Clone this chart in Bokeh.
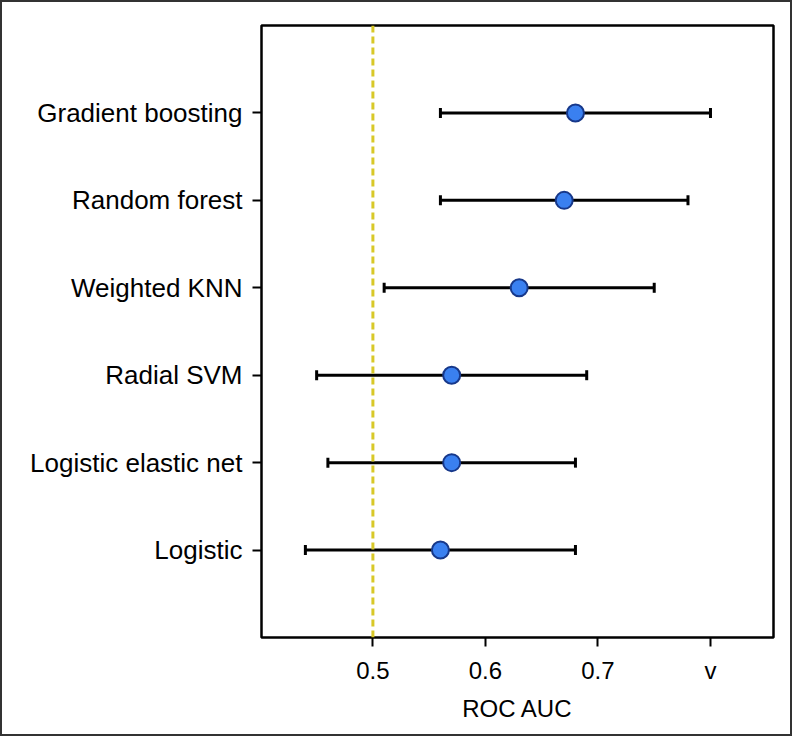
from bokeh.plotting import figure
from bokeh.models import FactorRange, Whisker, TeeHead, ColumnDataSource, Span, FixedTicker
from bokeh.embed import file_html
from bokeh.resources import INLINE

# data (bottom to top)
models = ["Logistic", "Logistic elastic net", "Radial SVM", "Weighted KNN", "Random forest", "Gradient boosting"]
auc = [0.56, 0.57, 0.57, 0.63, 0.67, 0.68]
ci_low = [0.44, 0.46, 0.45, 0.51, 0.56, 0.56]
ci_high = [0.68, 0.68, 0.69, 0.75, 0.78, 0.80]
x_ticks = [0.5, 0.6, 0.7, 0.8]
x_tick_labels = ["0.5", "0.6", "0.7", "v"]
reference_auc = 0.5

src = ColumnDataSource(dict(model=models, auc=auc, lo=ci_low, hi=ci_high))

FONT = "Liberation Sans"

p = figure(width=792, height=736, output_backend="svg", toolbar_location=None,
           x_range=(0.401, 0.856),
           y_range=FactorRange(factors=models, range_padding=0.5, range_padding_units="absolute"),
           min_border_left=259, min_border_right=21, min_border_top=23, min_border_bottom=101)

p.grid.visible = False
p.background_fill_color = "white"
p.border_fill_color = "white"
p.outline_line_color = "black"
p.outline_line_width = 2.5

p.styles = {"border": "2px solid #333333"}

# reference line
p.add_layout(Span(location=reference_auc, dimension="height", line_color="#D8C828",
                  line_width=3, line_dash="7 4"))

w = Whisker(source=src, base="model", lower="lo", upper="hi", dimension="width",
            line_color="black", line_width=3,
            upper_head=TeeHead(size=10, line_width=3, line_color="black"),
            lower_head=TeeHead(size=10, line_width=3, line_color="black"))
p.add_layout(w)

p.scatter("auc", "model", source=src, size=17, fill_color="#3A80F0",
          line_color="#17388A", line_width=2)

xa = p.xaxis[0]
xa.ticker = FixedTicker(ticks=x_ticks)
xa.major_label_overrides = {t: l for t, l in zip(x_ticks, x_tick_labels)}
xa.axis_label = "ROC AUC"
xa.axis_label_text_font = FONT
xa.axis_label_text_font_style = "normal"
xa.axis_label_text_font_size = "24px"
xa.axis_label_text_color = "black"
xa.axis_label_standoff = 8
xa.major_label_text_font = FONT
xa.major_label_text_font_size = "24px"
xa.major_label_text_color = "black"
xa.major_label_standoff = 10
xa.major_tick_out = 9
xa.major_tick_in = 0
xa.major_tick_line_width = 2
xa.minor_tick_line_color = None
xa.axis_line_color = None

ya = p.yaxis[0]
ya.major_label_text_font = FONT
ya.major_label_text_font_size = "26px"
ya.major_label_text_color = "black"
ya.major_label_standoff = 10
ya.major_tick_out = 9
ya.major_tick_in = 0
ya.major_tick_line_width = 2
ya.axis_line_color = None

open("out.html", "w").write(file_html(p, INLINE))
